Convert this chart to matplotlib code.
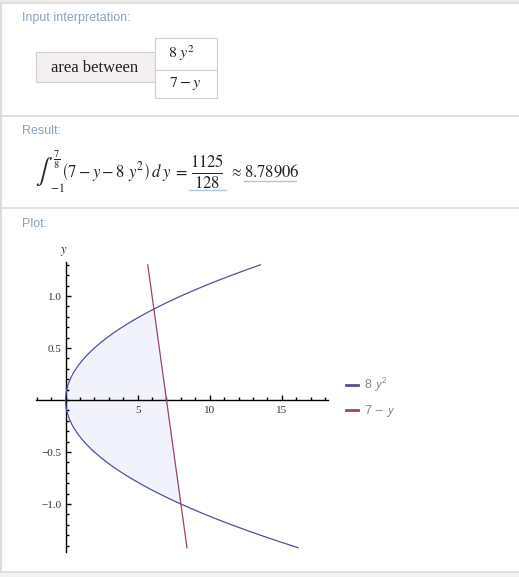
import numpy as np
import matplotlib
matplotlib.use("Agg")
import matplotlib.pyplot as plt
from matplotlib.patches import Rectangle
from matplotlib.font_manager import FontProperties

# Data: the two curves x = 8 y^2 and x = 7 - y, plotted over y
y_lo, y_hi = -1.42, 1.30           # plotted y range
y_a, y_b = -1.0, 7.0 / 8.0         # intersection points (integration limits)
labels = ["8 $y^2$", "7 $-$ $y$"]
colors = ["#50509a", "#964470"]
xticks_major = [5, 10, 15]
yticks_major = [-1.0, -0.5, 0.5, 1.0]
ytick_labels = ["\u22121.0", "\u22120.5", "0.5", "1.0"]

W, H = 519, 577
fig = plt.figure(figsize=(W / 100, H / 100), dpi=100)

# page background / pods, in pixel coords
bg = fig.add_axes([0, 0, 1, 1])
bg.set_xlim(0, W)
bg.set_ylim(H, 0)
bg.axis("off")

border = "#dcdcdc"
bg.add_patch(Rectangle((0, 0), W, 3, color="#ececec", lw=0))
bg.add_patch(Rectangle((0, 572), W, 5, color="#f3f3f3", lw=0))
for yy in [3, 116, 208, 572]:
    bg.plot([0, W], [yy, yy], color=border, lw=1.2)
bg.plot([0.8, 0.8], [3, 572], color=border, lw=1.5)

head = dict(color="#8aa3b8", fontsize=9, family=["Liberation Sans Narrow", "Liberation Sans"],
            va="center", ha="left")
bg.text(22, 18, "Input interpretation:", **head)
bg.text(22, 131, "Result:", **head)
bg.text(22, 224, "Plot:", **head)

ink = "#222222"
# input interpretation boxes
bg.add_patch(Rectangle((36, 52), 118.5, 30, facecolor="#f3eff3", edgecolor="#cfcfcf", lw=0.8))
bg.add_patch(Rectangle((154.5, 37.5), 62, 32, facecolor="white", edgecolor="#cfcfcf", lw=0.8))
bg.add_patch(Rectangle((154.5, 69.5), 62, 28, facecolor="white", edgecolor="#cfcfcf", lw=0.8))
bg.text(95, 67.5, "area between", family="Liberation Serif", fontsize=12, ha="center", va="center",
        color=ink)
bg.text(182, 53, "$8\\ y^2$", fontsize=11.5, ha="center", va="center", math_fontfamily="stix",
        color=ink)
bg.text(185.5, 83.5, "$7-y$", fontsize=11.5, ha="center", va="center", math_fontfamily="stix",
        color=ink)

# result: integral drawn in pieces to get display style
math = dict(ha="left", va="center", math_fontfamily="stix", color=ink)
bg.text(35, 172, r"$\int$", fontsize=18, **math)
bg.text(53, 160, r"$\frac{7}{8}$", fontsize=10.5, **math)
bg.text(50, 189, r"$-1$", fontsize=8.5, **math)
bg.text(61, 172, r"$\left(7-y-8\ y^2\right)\,d\,y\ =$", fontsize=12, **math)
bg.text(207, 162, r"$1125$", fontsize=12, ha="center", va="center", math_fontfamily="stix", color=ink)
bg.text(207, 183.5, r"$128$", fontsize=12, ha="center", va="center", math_fontfamily="stix", color=ink)
bg.plot([192, 222], [172.5, 172.5], color=ink, lw=0.7)
bg.text(229, 172, r"$\approx$", fontsize=10, **math)
bg.text(244, 172, r"$8.78906$", fontsize=12, **math)
bg.plot([189, 225.5], [190, 190], color="#a9c6dc", lw=1)
bg.plot([244, 295.5], [181, 181], color="#a9c6dc", lw=1)

# plot axes
L, R, T, B = 36, 328, 261.7, 552.3
ax = fig.add_axes([L / W, 1 - B / H, (R - L) / W, (B - T) / H])
ax.patch.set_alpha(0)
ax.set_xlim(-2.05, 18.2)
ax.set_ylim(-1.464, 1.33)

yy = np.linspace(y_lo, y_hi, 400)
ax.plot(8 * yy ** 2, yy, color=colors[0], lw=0.9, label=labels[0], zorder=3)
ax.plot(7 - yy, yy, color=colors[1], lw=0.9, label=labels[1], zorder=3)
yf = np.linspace(y_a, y_b, 300)
ax.fill_betweenx(yf, 8 * yf ** 2, 7 - yf, color="#f2f2fd", lw=0, zorder=1)

for s in ["top", "right"]:
    ax.spines[s].set_visible(False)
ax.spines["left"].set_position(("data", 0))
ax.spines["bottom"].set_position(("data", 0))
ax.spines["left"].set_linewidth(1.0)
ax.spines["bottom"].set_linewidth(1.0)

ax.set_xticks(xticks_major)
ax.set_xticks(np.arange(-2, 19, 1), minor=True)
ax.set_yticks(yticks_major)
ax.set_yticklabels(ytick_labels)
ax.set_yticks(np.arange(-14, 14, 1) / 10, minor=True)
ax.tick_params(which="both", direction="in", width=1.0, colors="black")
ax.tick_params(which="major", length=3.8)
ax.tick_params(which="minor", length=2.2)
ax.tick_params(axis="x", which="major", pad=4, labelsize=8)
ax.tick_params(axis="y", which="major", pad=3, labelsize=8)
for t in ax.get_xticklabels() + ax.get_yticklabels():
    t.set_family("Liberation Serif")
    t.set_color("#333333")

bg.text(64, 251, "$y$", fontsize=9, ha="center", va="center", math_fontfamily="stix", color=ink)

lp = FontProperties(family="Liberation Sans", size=9, math_fontfamily="stixsans")
leg = ax.legend(loc="upper left", bbox_to_anchor=(346 / W, 1 - 376 / H), bbox_transform=fig.transFigure,
                frameon=False, prop=lp, handlelength=0.95, handletextpad=0.5, labelspacing=0.75,
                borderpad=0, borderaxespad=0)
for t in leg.get_texts():
    t.set_color("#888888")
for h in leg.get_lines():
    h.set_linewidth(2.0)

fig.savefig("out.png", dpi=100)
